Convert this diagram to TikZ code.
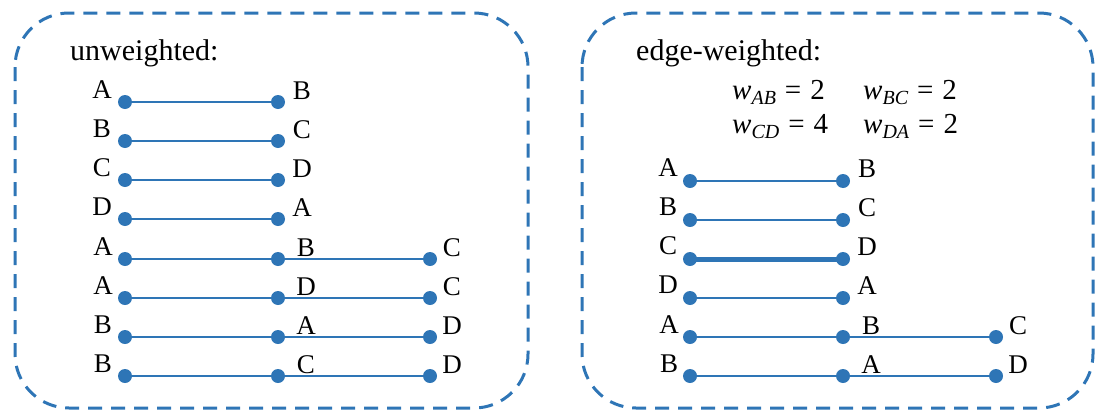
\documentclass[tikz,border=0pt]{standalone}
\usepackage{fontspec}
\setmainfont{Liberation Serif}
\definecolor{myblue}{RGB}{46,117,182}
\newcommand\wsub[2]{{\itshape w}\raisebox{-5pt}{\fontsize{20}{20}\selectfont\itshape #1}\hspace{9pt}=\hspace{9pt}#2}
\begin{document}
\begin{tikzpicture}[x=1pt,y=-1pt,
  frame/.style={draw=myblue, line width=3pt, dash pattern=on 14pt off 9pt, rounded corners=54pt},
  dot/.style={circle, fill=myblue, inner sep=0pt, minimum size=14pt},
  edge/.style={draw=myblue, line width=2.8pt},
  heavy/.style={draw=myblue, line width=5pt},
  lbl/.style={font=\fontsize{27}{27}\selectfont, inner sep=0pt, anchor=center},
  ttl/.style={font=\fontsize{30}{30}\selectfont, inner sep=0pt, anchor=base west},
  wts/.style={font=\fontsize{29}{29}\selectfont, inner sep=0pt, anchor=base west}]
\useasboundingbox (0,0) rectangle (1101,410);
\draw[frame] (15,13) rectangle (528,408);
\draw[frame] (582,13) rectangle (1093,408);
\node[ttl] (t1) at (70,60) {unweighted:};
\node[ttl] (t2) at (636,60) {edge-weighted:};
\node[wts] (w1) at (732,99) {\wsub{AB}{2}};
\node[wts] (w2) at (863,99) {\wsub{BC}{2}};
\node[wts] (w3) at (732,133) {\wsub{CD}{4}};
\node[wts] (w4) at (863,133) {\wsub{DA}{2}};
% left panel, two-dot rows
\foreach \i/\y/\p/\q in {1/102/A/B, 2/141/B/C, 3/180/C/D, 4/219/D/A}{
  \node[dot] (la\i) at (125,\y) {};
  \node[dot] (lb\i) at (278,\y) {};
  \node[lbl] (lpa\i) at ([shift={(-23,-12)}]la\i.center) {\p};
  \node[lbl] (lpb\i) at ([shift={(24,-11)}]lb\i.center) {\q};
  \draw[edge] (la\i.center) -- (lb\i.center);
}
% left panel, three-dot rows
\foreach \i/\y/\p/\q/\r in {5/259/A/B/C, 6/298/A/D/C, 7/337/B/A/D, 8/376/B/C/D}{
  \node[dot] (la\i) at (125,\y) {};
  \node[dot] (lb\i) at (278,\y) {};
  \node[dot] (lc\i) at (430,\y) {};
  \node[lbl] (lpa\i) at ([shift={(-22,-12)}]la\i.center) {\p};
  \node[lbl] (lpb\i) at ([shift={(28,-11)}]lb\i.center) {\q};
  \node[lbl] (lpc\i) at ([shift={(22,-11)}]lc\i.center) {\r};
  \draw[edge] (la\i.center) -- (lb\i.center) -- (lc\i.center);
}
% right panel, two-dot rows
\foreach \i/\y/\p/\q/\s in {1/181/A/B/edge, 2/220/B/C/edge, 3/259/C/D/heavy, 4/298/D/A/edge}{
  \node[dot] (ra\i) at (690,\y) {};
  \node[dot] (rb\i) at (843,\y) {};
  \node[lbl] (rpa\i) at ([shift={(-22,-13)}]ra\i.center) {\p};
  \node[lbl] (rpb\i) at ([shift={(24,-12)}]rb\i.center) {\q};
  \draw[\s] (ra\i.center) -- (rb\i.center);
}
% right panel, three-dot rows
\foreach \i/\y/\p/\q/\r in {5/337/A/B/C, 6/376/B/A/D}{
  \node[dot] (ra\i) at (690,\y) {};
  \node[dot] (rb\i) at (843,\y) {};
  \node[dot] (rc\i) at (996,\y) {};
  \node[lbl] (rpa\i) at ([shift={(-21,-12)}]ra\i.center) {\p};
  \node[lbl] (rpb\i) at ([shift={(28,-11)}]rb\i.center) {\q};
  \node[lbl] (rpc\i) at ([shift={(22,-11)}]rc\i.center) {\r};
  \draw[edge] (ra\i.center) -- (rb\i.center) -- (rc\i.center);
}
\end{tikzpicture}
\end{document}
